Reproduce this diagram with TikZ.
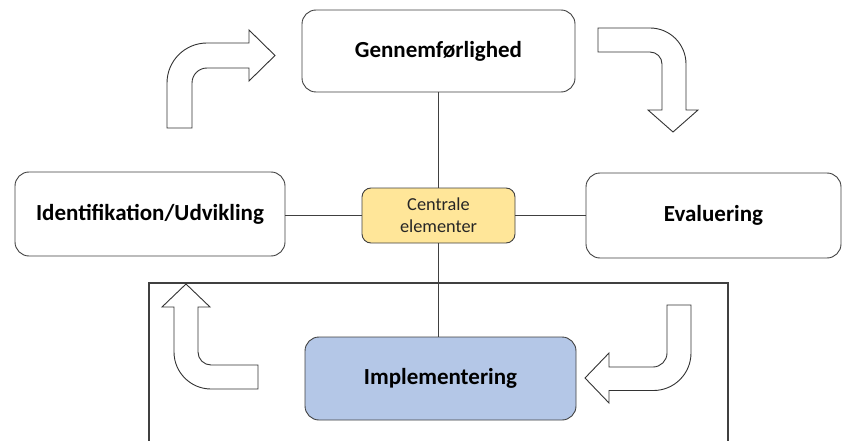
\documentclass[tikz,border=0pt]{standalone}
\usepackage{fontspec}
\setmainfont{Carlito}
\definecolor{boxline}{HTML}{404040}
\definecolor{yfill}{HTML}{FFE699}
\definecolor{bfill}{HTML}{B4C7E7}
\tikzset{
  mainbox/.style={draw=boxline, line width=0.9pt, rounded corners=14pt, fill=white, font=\bfseries\fontsize{23}{27}\selectfont, inner sep=0pt},
  centerbox/.style={draw=boxline, line width=0.9pt, rounded corners=9pt, fill=yfill, font=\fontsize{18.3}{22}\selectfont, align=center, inner sep=0pt, text=black!85},
  link/.style={draw=boxline, line width=0.8pt},
  bigarrow/.style={draw=black!80, line width=0.9pt, fill=white, line join=miter},
}
\begin{document}
\begin{tikzpicture}[x=1pt,y=-1pt]
\useasboundingbox (0,0) rectangle (851,441);
% frame
\draw[boxline, line width=1.2pt] (149,442) -- (149,283) -- (728,283) -- (728,442);
% boxes
\node[mainbox, minimum width=273pt, minimum height=82pt] (gen) at (438.5,51) {Gennemførlighed};
\node[mainbox, minimum width=270pt, minimum height=84pt] (ide) at (150,214) {Identifikation/Udvikling};
\node[mainbox, minimum width=255pt, minimum height=85pt] (eva) at (713.5,215.5) {Evaluering};
\node[centerbox, minimum width=153pt, minimum height=55pt] (cen) at (438.5,215.5) {Centrale\\elementer};
\node[mainbox, fill=bfill, minimum width=271pt, minimum height=83pt] (imp) at (440.5,378.5) {Implementering};
% links
\draw[link] (gen.south -| cen.north) -- (cen.north);
\draw[link] (cen.south) -- (imp.north -| cen.south);
\draw[link] (ide.east |- cen.west) -- (cen.west);
\draw[link] (cen.east) -- (eva.west |- cen.east);
% arrow 1 (top-left, up then right)
\draw[bigarrow] (167,128) -- (167,83) .. controls (167,60.9) and (184.9,43) .. (207,43)
  -- (249,43) -- (249,30) -- (275,55.5) -- (249,81) -- (249,68) -- (207,68)
  .. controls (198.7,68) and (192,74.7) .. (192,83) -- (192,128) -- cycle;
% arrow 2 (top-right, right then down)
\draw[bigarrow] (598,28) -- (650,28) .. controls (669.9,28) and (686,44.1) .. (686,64)
  -- (686,110) -- (698,110) -- (673,132) -- (648,110) -- (662,110) -- (662,64)
  .. controls (662,57.4) and (656.6,52) .. (650,52) -- (598,52) -- cycle;
% arrow 3 (bottom-left, left then up)
\draw[bigarrow] (186,284) -- (210,307) -- (198,307) -- (198,352)
  .. controls (198,359.2) and (203.8,365) .. (211,365) -- (258,365) -- (258,389) -- (211,389)
  .. controls (190.6,389) and (174,372.4) .. (174,352) -- (174,307) -- (162,307) -- cycle;
% arrow 4 (bottom-right, down then left)
\draw[bigarrow] (667,305) -- (691,305) -- (691,353)
  .. controls (691,373.7) and (674.2,390.5) .. (653.5,390.5) -- (609,390.5) -- (609,403)
  -- (585,378) -- (609,353) -- (609,367) -- (653,367)
  .. controls (660.7,367) and (667,360.7) .. (667,353) -- cycle;
\end{tikzpicture}
\end{document}
